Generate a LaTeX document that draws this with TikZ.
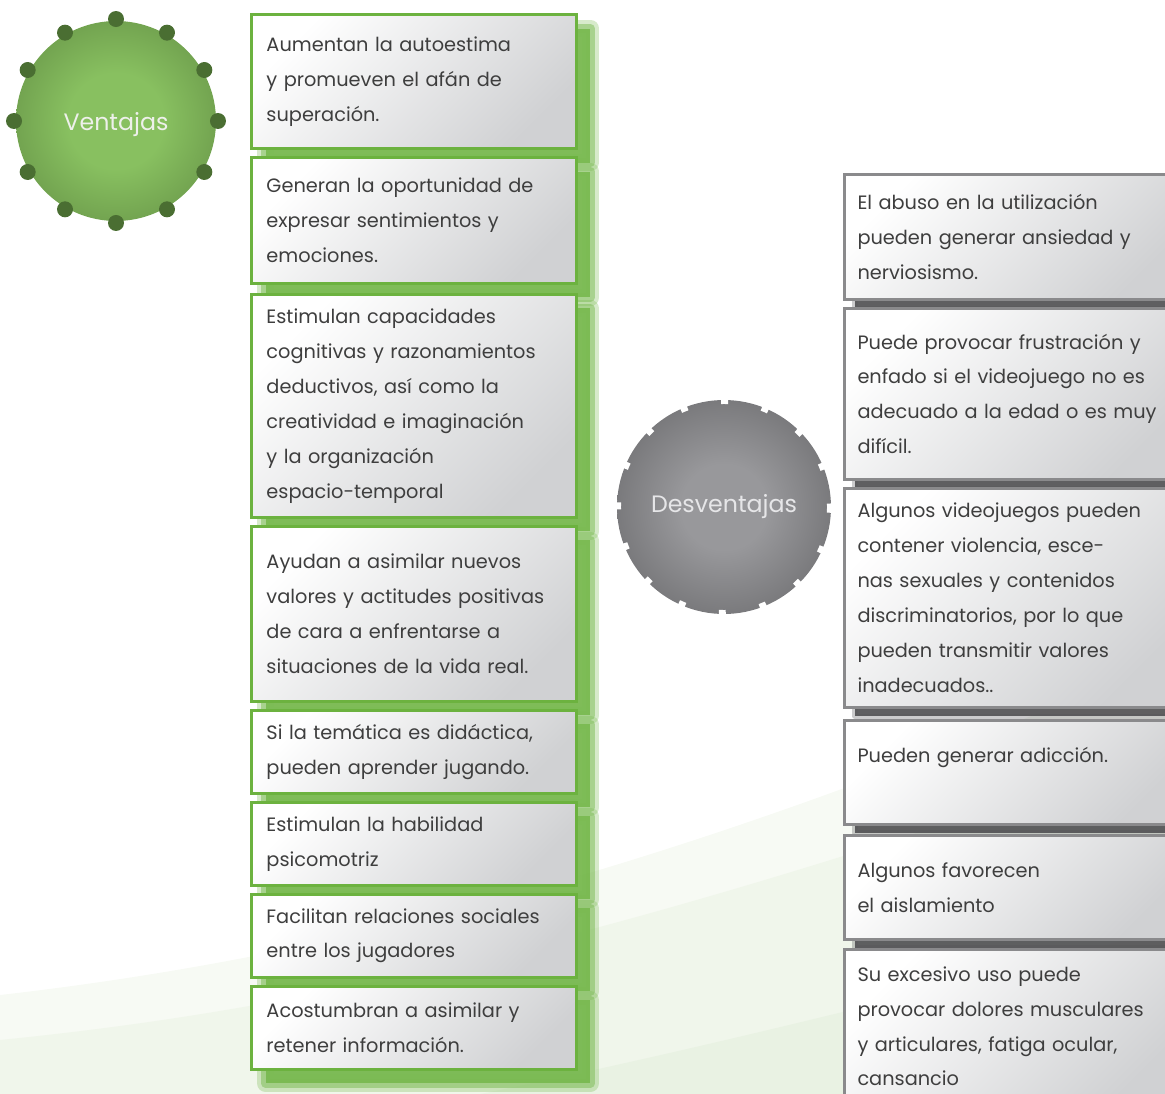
\documentclass[tikz,border=0pt]{standalone}
\usepackage{fontspec}
\setmainfont{Poppins}
\usetikzlibrary{positioning, shadows}

\definecolor{vborder}{RGB}{108,178,63}
\definecolor{vglow}{RGB}{122,186,82}
\definecolor{vlight}{RGB}{136,192,96}
\definecolor{vdark}{RGB}{74,110,50}
\definecolor{dborder}{RGB}{138,138,140}
\definecolor{dglow}{RGB}{84,84,86}
\definecolor{dlight}{RGB}{152,152,155}
\definecolor{ddark}{RGB}{72,72,74}
\definecolor{boxgray}{RGB}{208,209,211}
\definecolor{boxmid}{RGB}{244,244,245}
\definecolor{txt}{RGB}{62,62,62}
\definecolor{bandA}{RGB}{247,250,244}
\definecolor{bandB}{RGB}{240,246,235}
\definecolor{bandC}{RGB}{233,242,227}

\pgfdeclareradialshading{vshade}{\pgfpoint{0bp}{0bp}}{color(0bp)=(vlight); color(12bp)=(vlight); color(50bp)=(vdark)}
\pgfdeclareradialshading{dshade}{\pgfpoint{0bp}{0bp}}{color(0bp)=(dlight); color(10bp)=(dlight); color(50bp)=(ddark)}

\tikzstyle{vglowshadow} = [drop shadow={shadow xshift=8pt, shadow yshift=-8pt, fill=vglow, draw=vglow, line width=10pt, line join=round, opacity=.3},
  drop shadow={shadow xshift=8pt, shadow yshift=-8pt, fill=vglow, draw=vglow, line width=5pt, line join=round, opacity=.5},
  drop shadow={shadow xshift=8pt, shadow yshift=-8pt, fill=vglow, opacity=.9}]
\tikzstyle{dglowshadow} = [drop shadow={shadow xshift=6pt, shadow yshift=-5pt, fill=dglow, draw=dglow, line width=3pt, line join=round, opacity=.3},
  drop shadow={shadow xshift=6pt, shadow yshift=-5pt, fill=dglow, opacity=.9}]
\tikzstyle{ventaja} = [rectangle, draw=vborder, line width=1.7pt, top color=white, middle color=boxmid, bottom color=boxgray, shading angle=45, text width=5.9cm, inner xsep=0.3cm, align=left, text=txt, font=\fontsize{11}{19.9}\selectfont, vglowshadow]
\tikzstyle{desventaja} = [rectangle, draw=dborder, line width=1.7pt, top color=white, middle color=boxmid, bottom color=boxgray, shading angle=45, text width=6.28cm, inner xsep=0.26cm, align=left, text=txt, font=\fontsize{11}{19.9}\selectfont, dglowshadow]
\tikzstyle{vcircle} = [circle, shading=vshade, minimum size=4cm, inner sep=0pt, text={rgb,255:red,238;green,240;blue,235}, font=\fontsize{13.5}{16}\selectfont]
\tikzstyle{dcircle} = [circle, shading=dshade, minimum size=4.28cm, inner sep=0pt, text={rgb,255:red,230;green,230;blue,232}, font=\fontsize{13.5}{16}\selectfont]
\tikzstyle{dnotch} = [white, line width=4.5pt, dash pattern=on 4pt off 19.83pt, dash phase=2pt]

\begin{document}
\begin{tikzpicture}[x=0.02cm, y=-0.02cm]
\useasboundingbox (0,0) rectangle (1165,1094);
% faint background sweep
\fill[bandA] (0,995) .. controls (350,955) and (700,860) .. (1165,660) -- (1165,1094) -- (0,1094) -- cycle;
\fill[bandB] (0,1040) .. controls (300,1010) and (600,945) .. (1165,750) -- (1165,1094) -- (0,1094) -- cycle;
\fill[bandC] (480,1094) .. controls (650,1060) and (900,1000) .. (1165,930) -- (1165,1094) -- cycle;

% ventajas
\node (v1) [ventaja, minimum height=2.68cm, anchor=north west] at (250,13) {Aumentan la autoestima\\ y promueven el afán de\\ superación.};
\node (v2) [ventaja, minimum height=2.52cm, below=0.12cm of v1] {Generan la oportunidad de\\ expresar sentimientos y\\ emociones.};
\node (v3) [ventaja, minimum height=4.46cm, below=0.16cm of v2] {Estimulan capacidades\\ cognitivas y razonamientos\\ deductivos, así como la\\ creatividad e imaginación\\ y la organización\\ espacio-temporal};
\node (v4) [ventaja, minimum height=3.5cm, below=0.12cm of v3] {Ayudan a asimilar nuevos\\ valores y actitudes positivas\\ de cara a enfrentarse a\\ situaciones de la vida real.};
\node (v5) [ventaja, minimum height=1.66cm, below=0.12cm of v4] {Si la temática es didáctica,\\ pueden aprender jugando.};
\node (v6) [ventaja, minimum height=1.66cm, below=0.12cm of v5] {Estimulan la habilidad\\ psicomotriz};
\node (v7) [ventaja, minimum height=1.66cm, below=0.12cm of v6] {Facilitan relaciones sociales\\ entre los jugadores};
\node (v8) [ventaja, minimum height=1.66cm, below=0.12cm of v7] {Acostumbran a asimilar y\\ retener información.};

\node (vent) [vcircle, text depth=-0.1cm] at (116,121) {Ventajas};
\foreach \a in {0,30,...,330}
  \fill[vdark] (vent.center) ++(\a:2.04cm) circle (0.16cm);

% desventajas
\node (desv) [dcircle] at (724,507) {Desventajas};
\draw[dnotch] (desv.center) circle (2.14cm);

\node (d1) [desventaja, minimum height=2.5cm, anchor=north west] at (843,173) {El abuso en la utilización\\ pueden generar ansiedad y\\ nerviosismo.};
\node (d2) [desventaja, minimum height=3.42cm, below=0.12cm of d1] {Puede provocar frustración y\\ enfado si el videojuego no es\\ adecuado a la edad o es muy\\ difícil.};
\node (d3) [desventaja, minimum height=4.38cm, below=0.12cm of d2] {Algunos videojuegos pueden\\ contener violencia, esce-\\ nas sexuales y contenidos\\ discriminatorios, por lo que\\ pueden transmitir valores\\ inadecuados..};
\node (d4) [desventaja, minimum height=2.08cm, below=0.2cm of d3] {Pueden generar adicción.\\ \mbox{}};
\node (d5) [desventaja, minimum height=2.08cm, below=0.16cm of d4] {Algunos favorecen\\ el aislamiento};
\node (d6) [desventaja, minimum height=3.08cm, below=0.14cm of d5] {Su excesivo uso puede\\ provocar dolores musculares\\ y articulares, fatiga ocular,\\ cansancio};
\end{tikzpicture}
\end{document}
